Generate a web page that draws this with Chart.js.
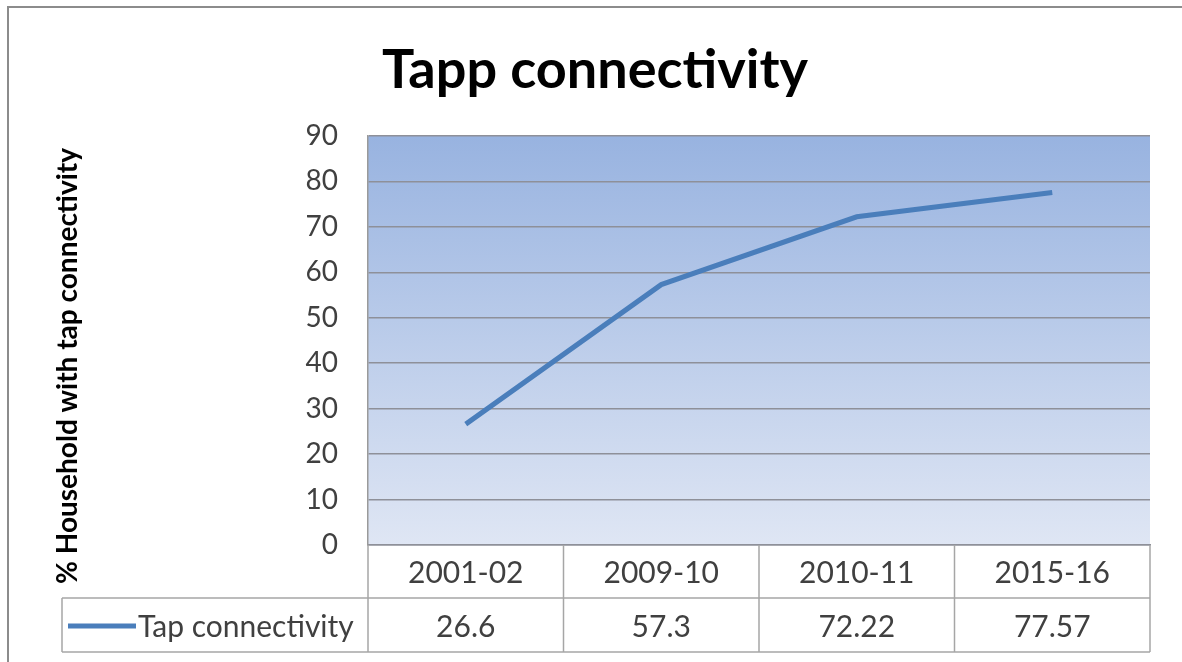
<!DOCTYPE html>
<html>
<head>
<meta charset="utf-8">
<script src="https://cdn.jsdelivr.net/npm/chart.js@4"></script>
<style>
  html, body { margin: 0; padding: 0; background: #fff; }
  #wrap { width: 1182px; height: 662px; }
</style>
</head>
<body>
<div id="wrap"><canvas id="tapChart" width="1182" height="662"></canvas></div>
<script>
// chart data
const categories = ['2001-02', '2009-10', '2010-11', '2015-16'];
const tapValues = [26.6, 57.3, 72.22, 77.57];
const tableValues = ['26.6', '57.3', '72.22', '77.57'];
const seriesName = 'Tap connectivity';
const chartTitle = 'Tapp connectivity';
const yTitle = '% Household with tap connectivity';

const lineColor = '#4a7ebb';
const gridColor = '#8e9099';
const tableColor = '#a6a6a6';
const textColor = '#404040';

// gradient behind plot area
const backgroundPlugin = {
  id: 'plotBg',
  beforeDraw(chart) {
    const { ctx, chartArea: a } = chart;
    ctx.save();
    const g = ctx.createLinearGradient(0, a.top, 0, a.bottom);
    g.addColorStop(0, '#98b3e0');
    g.addColorStop(1, '#dfe6f4');
    ctx.fillStyle = g;
    ctx.fillRect(a.left, a.top, a.right - a.left, a.bottom - a.top);
    ctx.restore();
  }
};

// outer frame, titles and the data table under the axis
const tablePlugin = {
  id: 'dataTable',
  afterDraw(chart) {
    const { ctx, chartArea: a } = chart;
    const x = chart.scales.x;
    const colW = (a.right - a.left) / categories.length;
    const headTop = a.bottom;
    const rowTop = a.bottom + 53;
    const rowBottom = a.bottom + 107;
    const legendLeft = 62;

    ctx.save();
    // frame
    ctx.strokeStyle = '#8c8c8c';
    ctx.lineWidth = 2;
    ctx.strokeRect(8, 7, 1200, 700);

    // title
    ctx.fillStyle = '#000';
    ctx.font = 'bold 54px Lato';
    ctx.textAlign = 'center';
    ctx.textBaseline = 'alphabetic';
    ctx.fillText(chartTitle, 595, 88);

    // y axis title, centred over plot + header row like the original
    ctx.save();
    ctx.translate(68, 366);
    ctx.rotate(-Math.PI / 2);
    ctx.font = 'bold 28px Lato';
    ctx.textBaseline = 'middle';
    ctx.fillText(yTitle, 0, 0);
    ctx.restore();

    // table grid
    ctx.strokeStyle = tableColor;
    ctx.lineWidth = 1.5;
    ctx.beginPath();
    ctx.moveTo(legendLeft, rowTop); ctx.lineTo(a.right, rowTop);
    ctx.moveTo(legendLeft, rowBottom); ctx.lineTo(a.right, rowBottom);
    ctx.moveTo(legendLeft, rowTop); ctx.lineTo(legendLeft, rowBottom);
    for (let i = 0; i <= categories.length; i++) {
      const bx = a.left + i * colW;
      ctx.moveTo(bx, headTop); ctx.lineTo(bx, rowBottom);
    }
    ctx.stroke();

    // header and values
    ctx.fillStyle = textColor;
    ctx.font = '30px Lato';
    ctx.textBaseline = 'middle';
    categories.forEach((c, i) => {
      const cx = x.getPixelForValue(i);
      ctx.fillText(c, cx, (headTop + rowTop) / 2 + 2);
      ctx.fillText(tableValues[i], cx, (rowTop + rowBottom) / 2 + 2);
    });

    // legend key
    const ly = (rowTop + rowBottom) / 2 + 1;
    ctx.strokeStyle = lineColor;
    ctx.lineWidth = 5;
    ctx.beginPath();
    ctx.moveTo(68, ly); ctx.lineTo(136, ly);
    ctx.stroke();
    ctx.textAlign = 'left';
    ctx.fillText(seriesName, 138, ly + 1);
    ctx.restore();
  }
};

const ctx = document.getElementById('tapChart').getContext('2d');
const tapChart = new Chart(ctx, {
  type: 'line',
  data: {
    labels: categories,
    datasets: [{
      label: seriesName,
      data: tapValues,
      borderColor: lineColor,
      borderWidth: 5,
      pointRadius: 0,
      tension: 0,
      fill: false
    }]
  },
  options: {
    responsive: false,
    animation: false,
    layout: { padding: { left: 50, right: 32, top: 136, bottom: 10 } },
    plugins: {
      legend: { display: false },
      title: { display: false },
      tooltip: { enabled: false }
    },
    scales: {
      x: {
        offset: true,
        grid: { display: false, drawTicks: false },
        border: { display: true, color: gridColor, width: 1.5 },
        ticks: { display: false },
        afterFit(scale) { scale.height = 107; }
      },
      y: {
        min: 0,
        max: 90,
        ticks: {
          stepSize: 10,
          padding: 30,
          color: textColor,
          font: { family: 'Lato', size: 28 }
        },
        grid: { color: gridColor, lineWidth: 1.5, drawTicks: false },
        border: { display: true, color: '#9a9a9a', width: 1.5 },
        title: { display: false },
        afterFit(scale) { scale.width = 318; }
      }
    }
  },
  plugins: [backgroundPlugin, tablePlugin]
});
</script>
</body>
</html>
